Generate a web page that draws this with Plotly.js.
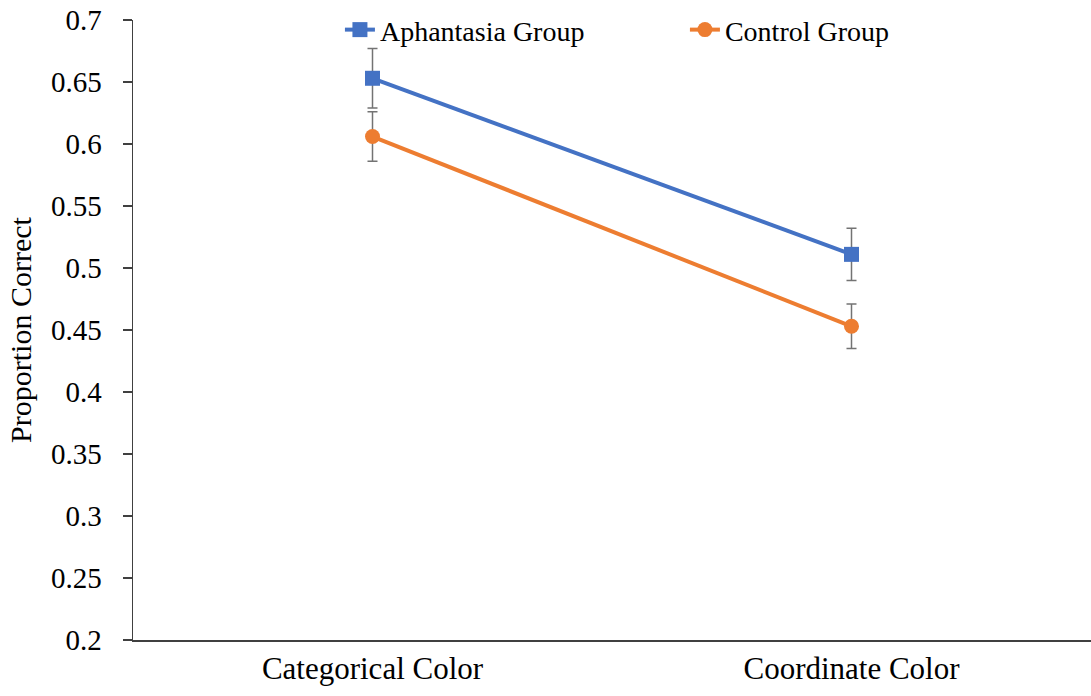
<!DOCTYPE html>
<html>
<head>
<meta charset="utf-8">
<script src="https://cdn.plot.ly/plotly-3.0.1.min.js"></script>
<style>
html,body{margin:0;padding:0;background:#fff;}
#chart{width:1091px;height:696px;}
</style>
</head>
<body>
<div id="chart"></div>
<script>
const categories = ["Categorical Color", "Coordinate Color"];
const aphantasiaValues = [0.653, 0.511];
const aphantasiaErrors = [0.024, 0.021];
const controlValues = [0.606, 0.453];
const controlErrors = [0.020, 0.018];
const yTickValues = [0.2, 0.25, 0.3, 0.35, 0.4, 0.45, 0.5, 0.55, 0.6, 0.65, 0.7];
const yTickLabels = ["0.2", "0.25", "0.3", "0.35", "0.4", "0.45", "0.5", "0.55", "0.6", "0.65", "0.7"];

const fontFamily = "Liberation Serif";

const traces = [
  {
    x: categories, y: aphantasiaValues, name: "Aphantasia Group",
    type: "scatter", mode: "lines+markers",
    line: {color: "#4472C4", width: 4},
    marker: {symbol: "square", size: 15, color: "#4472C4"},
    error_y: {type: "data", array: aphantasiaErrors, visible: true, color: "#737373", thickness: 1.5, width: 5}
  },
  {
    x: categories, y: controlValues, name: "Control Group",
    type: "scatter", mode: "lines+markers",
    line: {color: "#ED7D31", width: 4},
    marker: {symbol: "circle", size: 15, color: "#ED7D31"},
    error_y: {type: "data", array: controlErrors, visible: true, color: "#737373", thickness: 1.5, width: 5}
  }
];

const layout = {
  width: 1091, height: 696,
  margin: {l: 133, r: 0, t: 20, b: 56, pad: 0},
  paper_bgcolor: "#fff", plot_bgcolor: "#fff",
  font: {family: fontFamily, color: "#000", size: 29},
  showlegend: true,
  legend: {
    orientation: "h", x: 0.216, xanchor: "left", y: 0.984, yanchor: "middle",
    font: {family: fontFamily, size: 28, color: "#000"},
    bgcolor: "rgba(0,0,0,0)", entrywidth: 300, entrywidthmode: "pixels"
  },
  xaxis: {
    type: "category", range: [-0.5, 1.5],
    showgrid: false, zeroline: false,
    showline: true, linecolor: "#404040", linewidth: 2,
    ticks: "",
    tickfont: {family: fontFamily, size: 31, color: "#000"},
    fixedrange: true
  },
  yaxis: {
    range: [0.2, 0.7], tickmode: "array", tickvals: yTickValues, ticktext: yTickLabels,
    showgrid: false, zeroline: false,
    showline: true, linecolor: "#404040", linewidth: 1.5,
    ticks: "outside", ticklen: 9, tickcolor: "#404040", tickwidth: 1.5,
    ticklabelstandoff: 15,
    tickfont: {family: fontFamily, size: 29, color: "#000"},
    title: {text: "Proportion Correct", font: {family: fontFamily, size: 30, color: "#000"}, standoff: 10},
    fixedrange: true
  }
};

Plotly.newPlot("chart", traces, layout, {displayModeBar: false, staticPlot: true});
</script>
</body>
</html>
